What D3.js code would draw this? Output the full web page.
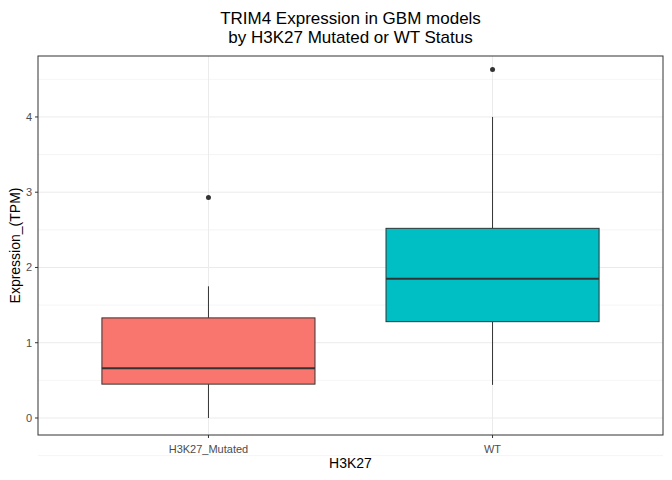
<!DOCTYPE html><html><head><script src="https://cdn.jsdelivr.net/npm/d3@7"></script>
<style>body{margin:0;background:#fff}</style></head><body><svg id="c" width="672" height="480"></svg>
<script>
const categories=["H3K27_Mutated","WT"];
const q1=[0.45,1.28], medians=[0.66,1.85], q3=[1.33,2.52];
const whiskerLow=[0.0,0.44], whiskerHigh=[1.75,4.0];
const outliers=[[2.93],[4.63]];
const colors=["#F8766D","#00BFC4"];
const yTicks=[0,1,2,3,4];
const svg=d3.select("#c"), font="Liberation Sans, Arial, sans-serif";
const L=38,R=663,T=56,B=435;
const y=d3.scaleLinear().domain([-0.226,4.81]).range([B,T]);
const xc=d3.scaleLinear().domain([0.4,2.6]).range([L,R]);
const g=svg.append("g");
[-0.5,0.5,1.5,2.5,3.5,4.5].forEach(v=>g.append("line").attr("x1",L).attr("x2",R).attr("y1",y(v)).attr("y2",y(v)).attr("stroke","#ebebeb").attr("stroke-width",0.5));
yTicks.forEach(v=>g.append("line").attr("x1",L).attr("x2",R).attr("y1",y(v)).attr("y2",y(v)).attr("stroke","#ebebeb"));
categories.forEach((c,i)=>g.append("line").attr("x1",xc(i+1)).attr("x2",xc(i+1)).attr("y1",T).attr("y2",B).attr("stroke","#ebebeb"));
const hw=(xc(1.375)-xc(1));
categories.forEach((c,i)=>{const cx=xc(i+1);
 g.append("line").attr("x1",cx).attr("x2",cx).attr("y1",y(whiskerHigh[i])).attr("y2",y(q3[i])).attr("stroke","#333");
 g.append("line").attr("x1",cx).attr("x2",cx).attr("y1",y(whiskerLow[i])).attr("y2",y(q1[i])).attr("stroke","#333");
 g.append("rect").attr("x",cx-hw).attr("width",2*hw).attr("y",y(q3[i])).attr("height",y(q1[i])-y(q3[i])).attr("fill",colors[i]).attr("stroke","#333");
 g.append("line").attr("x1",cx-hw).attr("x2",cx+hw).attr("y1",y(medians[i])).attr("y2",y(medians[i])).attr("stroke","#333").attr("stroke-width",2);
 outliers[i].forEach(o=>g.append("circle").attr("cx",cx).attr("cy",y(o)).attr("r",2.5).attr("fill","#333"));
});
g.append("rect").attr("x",L).attr("y",T).attr("width",R-L).attr("height",B-T).attr("fill","none").attr("stroke","#333");
yTicks.forEach(v=>{g.append("line").attr("x1",L-3).attr("x2",L).attr("y1",y(v)).attr("y2",y(v)).attr("stroke","#333");
 g.append("text").attr("x",L-6).attr("y",y(v)).attr("dy","0.35em").attr("text-anchor","end").attr("font-family",font).attr("font-size",11).attr("fill","#4d4d4d").text(v);});
categories.forEach((c,i)=>{g.append("line").attr("x1",xc(i+1)).attr("x2",xc(i+1)).attr("y1",B).attr("y2",B+3).attr("stroke","#333");
 g.append("text").attr("x",xc(i+1)).attr("y",B+18).attr("text-anchor","middle").attr("font-family",font).attr("font-size",11).attr("fill","#4d4d4d").text(c);});
svg.append("text").attr("x",(L+R)/2).attr("y",468).attr("text-anchor","middle").attr("font-family",font).attr("font-size",14).text("H3K27");
svg.append("text").attr("transform",`translate(20,${(T+B)/2}) rotate(-90)`).attr("text-anchor","middle").attr("font-family",font).attr("font-size",14).text("Expression_(TPM)");
svg.append("text").attr("x",(L+R)/2).attr("y",24).attr("text-anchor","middle").attr("font-family",font).attr("font-size",17).text("TRIM4 Expression in GBM models");
svg.append("text").attr("x",(L+R)/2).attr("y",43).attr("text-anchor","middle").attr("font-family",font).attr("font-size",17).text("by H3K27 Mutated or WT Status");
</script></body></html>
